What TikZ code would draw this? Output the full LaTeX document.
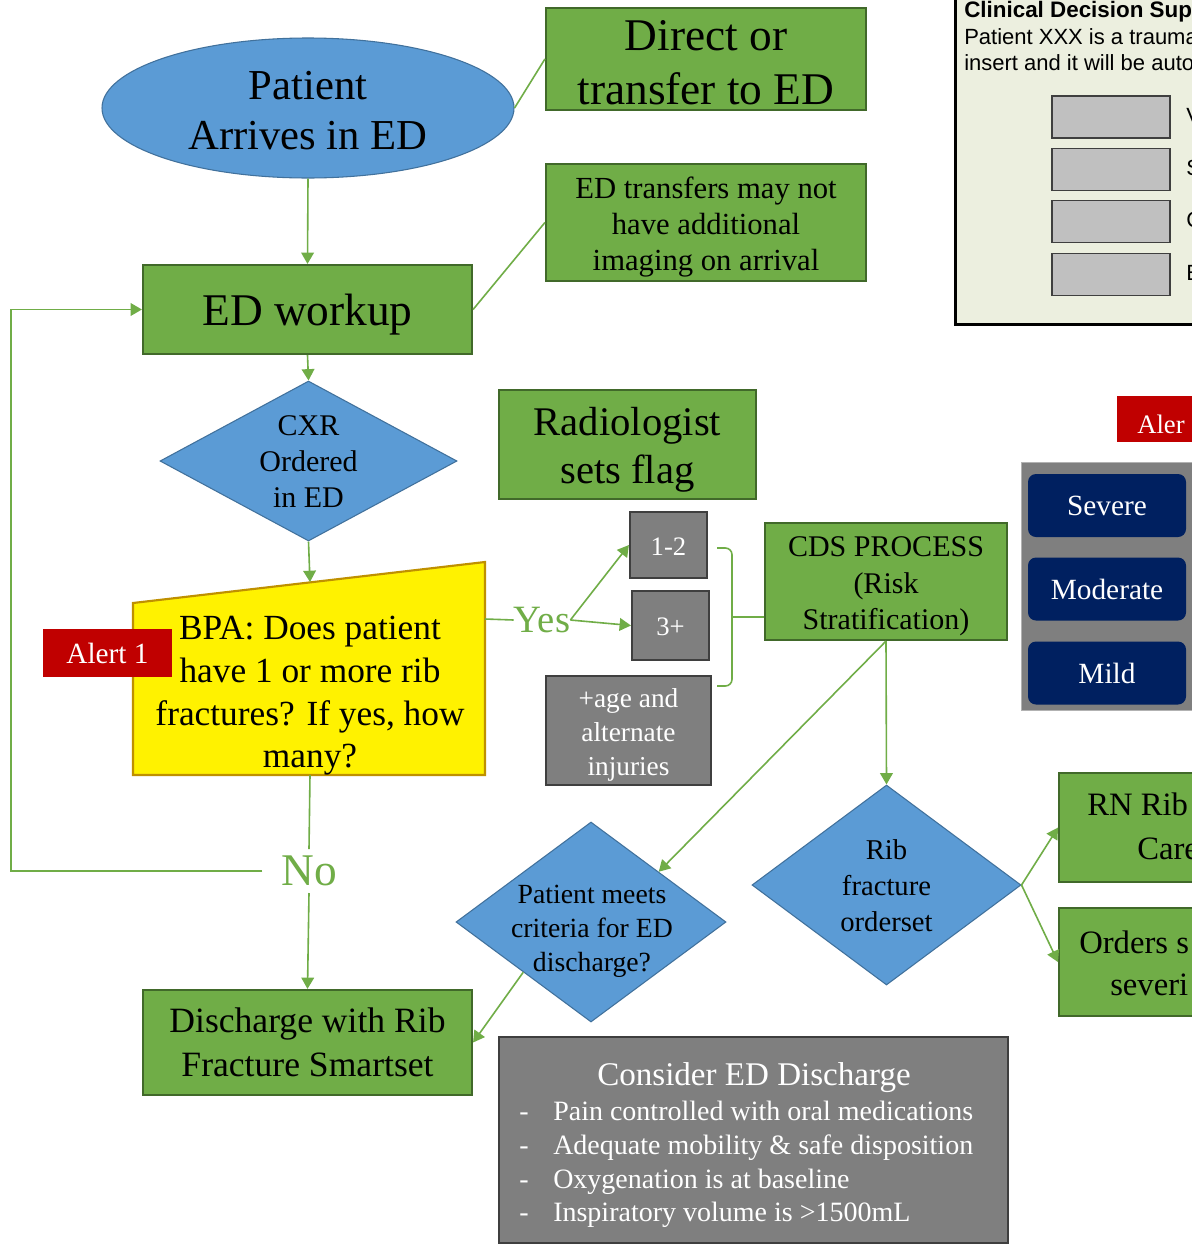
\documentclass[tikz,border=0pt]{standalone}
\usepackage{fontspec}
\setmainfont{Liberation Serif}
\newfontfamily\sansui{Liberation Sans}
\usetikzlibrary{shapes.geometric,arrows.meta}
\definecolor{leaf}{HTML}{70AD47}
\definecolor{leafedge}{HTML}{41692A}
\definecolor{sky}{HTML}{5B9BD5}
\definecolor{skyedge}{HTML}{41719C}
\definecolor{slate}{HTML}{7F7F7F}
\definecolor{slateedge}{HTML}{3F3F3F}
\definecolor{navy}{HTML}{002060}
\definecolor{alarm}{HTML}{C00000}
\definecolor{amber}{HTML}{BF9000}
\definecolor{panelbg}{HTML}{ECEFDF}
\definecolor{keygray}{HTML}{C0C0C0}
\newcommand\pxl[1]{#1*0.75pt}
\newcommand\fsz[2]{\fontsize{#1}{#2}\selectfont}

\begin{document}
\begin{tikzpicture}[x=0.75pt,y=-0.75pt,
  flow/.style={draw=leaf,line width=1.2pt},
  arr/.style={flow,-{Triangle[width=9.5pt,length=8.5pt]}},
  gbox/.style={rectangle,draw=leafedge,fill=leaf,line width=1.6pt,inner sep=0pt,align=center},
  graybox/.style={rectangle,draw=slateedge,fill=slate,line width=1.6pt,inner sep=0pt,align=center,text=white},
  bdiam/.style={diamond,draw=skyedge,fill=sky,line width=0.8pt,inner sep=0pt},
  lbl/.style={inner sep=0pt,align=center},
  redtag/.style={rectangle,fill=alarm,inner sep=0pt,text=white},
  sev/.style={rectangle,rounded corners=6pt,fill=navy,text=white,inner sep=0pt,
    minimum width=\pxl{158},minimum height=\pxl{63},font=\fsz{22}{26}},
  slotkey/.style={rectangle,draw=slateedge,fill=keygray,line width=1pt,
    minimum width=\pxl{118},minimum height=\pxl{42},inner sep=0pt},
  bw/.style={anchor=base west,inner sep=0pt},
]
\useasboundingbox (0,0) rectangle (1192,1246);
\clip (0,0) rectangle (1192,1246);
\fill[white] (0,0) rectangle (1192,1246);

% ---------- decision-support window (top right) ----------
\node[rectangle,draw=black,fill=panelbg,line width=2.4pt,minimum width=\pxl{280},
  minimum height=\pxl{343},inner sep=0pt,anchor=north west] (cdswin) at (954,-20) {};
\node[bw,font=\sansui\bfseries\fsz{16.8}{20}] (cdstitle) at (964,17) {Clinical Decision Supp};
\node[bw,font=\sansui\fsz{16.5}{20}] (cdsline1) at (964,44) {Patient XXX is a trauma};
\node[bw,font=\sansui\fsz{16.5}{20}] (cdsline2) at (964,70) {insert and it will be auto};
\node[slotkey] (slot1) at (1111,117) {};
\node[slotkey] (slot2) at (1111,169.5) {};
\node[slotkey] (slot3) at (1111,221.5) {};
\node[slotkey] (slot4) at (1111,274.5) {};
\node[bw,font=\sansui\fsz{16.5}{20}] (slot1l) at (1186,123) {V};
\node[bw,font=\sansui\fsz{16.5}{20}] (slot2l) at (1186,175.5) {S};
\node[bw,font=\sansui\fsz{16.5}{20}] (slot3l) at (1186,227.5) {C};
\node[bw,font=\sansui\fsz{16.5}{20}] (slot4l) at (1186,280.5) {E};

% ---------- severity panel ----------
\node[redtag,minimum width=\pxl{100},minimum height=\pxl{46},anchor=west] (alert2) at (1117,419) {};
\node[bw,text=white,font=\fsz{20}{24}] (alert2txt) at (1137,433) {Aler};
\node[rectangle,fill=slate,draw=gray!60,line width=0.6pt,minimum width=\pxl{190},
  minimum height=\pxl{248},inner sep=0pt] (sevpanel) at (1116,586) {};
\node[sev] (severe) at (1107,505.5) {Severe};
\node[sev] (moderate) at (1107,589) {Moderate};
\node[sev] (mild) at (1107,673) {Mild};

% ---------- main flow ----------
\node[ellipse,draw=skyedge,fill=sky,line width=0.8pt,minimum width=\pxl{412},
  minimum height=\pxl{140},inner sep=0pt] (arrive) at (308,108) {};
\node[lbl,font=\fsz{32}{37.5}] (arrivetxt) at (308,111) {Patient\\Arrives in ED};

\node[gbox,minimum width=\pxl{320},minimum height=\pxl{102}] (route) at (706,59) {};
\node[lbl,font=\fsz{34}{40.5}] (routetxt) at (706,62.5) {Direct or\\transfer to ED};
\node[gbox,minimum width=\pxl{320},minimum height=\pxl{117}] (xfer) at (706,222.5) {};
\node[lbl,font=\fsz{23}{27}] (xfertxt) at (706,227) {ED transfers may not\\have additional\\imaging on arrival};
\node[gbox,minimum width=\pxl{329},minimum height=\pxl{89}] (workup) at (307.5,309.5) {};
\node[lbl,font=\fsz{34}{40}] (workuptxt) at (307.5,315) {ED workup};

\node[bdiam,minimum width=\pxl{297},minimum height=\pxl{160}] (cxr) at (308.5,461) {};
\node[lbl,font=\fsz{22.5}{27}] (cxrtxt) at (308.5,462) {CXR\\Ordered\\in ED};

\node[gbox,minimum width=\pxl{257},minimum height=\pxl{109}] (radflag) at (627.5,444.5) {};
\node[lbl,font=\fsz{30.5}{36}] (radflagtxt) at (627.5,449.5) {Radiologist\\sets flag};

% manual-input question
\coordinate (bpatl) at (133,603);
\coordinate (bpatr) at (485,562);
\coordinate (bpabr) at (485,775);
\coordinate (bpabl) at (133,775);
\coordinate (bpatop) at (310,582);
\coordinate (bpaout) at (485,619);
\coordinate (bpabot) at (310,775);
\draw[draw=amber,fill=yellow,line width=1.6pt] (bpatl) -- (bpatr) -- (bpabr) -- (bpabl) -- cycle;
\node[lbl,font=\fsz{26.5}{32}] (bpatxt) at (310,696) {BPA: Does patient\\have 1 or more rib\\fractures? If yes, how\\many?};
\node[redtag,minimum width=\pxl{129},minimum height=\pxl{48},font=\fsz{22}{26}] (alert1) at (107.5,653) {Alert 1};

\node[lbl,text=leaf,font=\fsz{29}{34}] (yes) at (542,620) {Yes};

\node[graybox,minimum width=\pxl{77},minimum height=\pxl{66},font=\fsz{20}{24}] (r12) at (668.5,545) {};
\node[lbl,text=white,font=\fsz{20}{24}] (r12txt) at (668.5,547) {1-2};
\node[graybox,minimum width=\pxl{77},minimum height=\pxl{69},font=\fsz{20}{24}] (r3) at (670.5,625.5) {};
\node[lbl,text=white,font=\fsz{20}{24}] (r3txt) at (670.5,627) {3+};
\node[graybox,minimum width=\pxl{165},minimum height=\pxl{109}] (rage) at (628.5,730.5) {};
\node[lbl,text=white,font=\fsz{20.5}{25.5}] (ragetxt) at (628.5,734.5) {+age and\\alternate\\injuries};

\node[gbox,minimum width=\pxl{242},minimum height=\pxl{117}] (cds) at (886,581.5) {};
\node[lbl,font=\fsz{22.5}{27.5}] (cdstxt) at (886,586.5) {CDS PROCESS\\(Risk\\Stratification)};

\node[bdiam,minimum width=\pxl{269},minimum height=\pxl{200}] (ribset) at (886.5,885) {};
\node[lbl,font=\fsz{21.5}{27}] (ribsettxt) at (886.5,886) {Rib\\fracture\\orderset};

\node[bdiam,minimum width=\pxl{270},minimum height=\pxl{200}] (dcrit) at (591,922) {};
\node[lbl,font=\fsz{20.8}{25.5}] (dcrittxt) at (592,931) {Patient meets\\criteria for ED\\discharge?};

\node[gbox,minimum width=\pxl{200},minimum height=\pxl{109},anchor=north west] (rnrib) at (1058,772) {};
\node[bw,font=\fsz{24.5}{30}] (rnribl1) at (1087,815) {RN Rib};
\node[bw,font=\fsz{24.5}{30}] (rnribl2) at (1137,859) {Care};
\node[gbox,minimum width=\pxl{200},minimum height=\pxl{108},anchor=north west] (ordsev) at (1058,907) {};
\node[bw,font=\fsz{24.5}{30}] (ordsevl1) at (1079,953) {Orders s};
\node[bw,font=\fsz{24.5}{30}] (ordsevl2) at (1110,995) {severi};

\node[lbl,text=leaf,font=\fsz{34}{40},inner xsep=14pt,inner ysep=5pt] (nonode) at (309,871) {No};
\coordinate (loopc) at (11,871);

\node[gbox,minimum width=\pxl{329},minimum height=\pxl{105},font=\fsz{26.7}{33}] (dsch) at (307.5,1042.5) {Discharge with Rib\\Fracture Smartset};

% discharge criteria
\node[graybox,minimum width=\pxl{509},minimum height=\pxl{206},line width=2.2pt] (consider) at (753.5,1140) {};
\node[inner sep=0pt,anchor=base,text=white,font=\fsz{24.8}{30}] (ctitle) at (754,1085) {Consider ED Discharge};
\node[bw,text=white,font=\fsz{21}{25}] (citem1) at (519,1120) {\makebox[25.5pt][l]{-}Pain controlled with oral medications};
\node[bw,text=white,font=\fsz{21}{25}] (citem2) at (519,1154) {\makebox[25.5pt][l]{-}Adequate mobility \& safe disposition};
\node[bw,text=white,font=\fsz{21}{25}] (citem3) at (519,1188) {\makebox[25.5pt][l]{-}Oxygenation is at baseline};
\node[bw,text=white,font=\fsz{21}{25}] (citem4) at (519,1221) {\makebox[25.5pt][l]{-}Inspiratory volume is >1500mL};

% ---------- connectors ----------
\draw[flow] (arrive.east) -- (route.west);
\draw[arr] (arrive.south) -- (workup.north);
\draw[flow] (workup.east) -- (xfer.west);
\draw[arr] (workup.south) -- (cxr.north);
\draw[arr] (cxr.south) -- (bpatop);
\draw[flow] (bpaout) -- (yes.west);
\draw[arr] (yes.east) -- (r12.west);
\draw[arr] (yes.east) -- (r3.west);
% bracket gathering the counts into the risk step
\coordinate (brtop) at (717,548);
\coordinate (brbot) at (717,686);
\coordinate (brtip) at (732,617);
\draw[flow,rounded corners=5pt] (brtop) -- (brtop -| brtip) -- (brbot -| brtip) -- (brbot);
\draw[flow] (brtip) -- (brtip -| cds.west);
\draw[arr] (cds.south) -- (ribset.north);
\draw[arr] (cds.south) -- (dcrit.north east);
\draw[arr] (ribset.east) -- (rnrib.west);
\draw[arr] (ribset.east) -- (ordsev.west);
\draw[flow] (bpabot) -- (nonode.north);
\draw[arr] (nonode.south) -- (dsch.north);
\draw[arr] (nonode.west) -- (loopc) |- (workup.west);
\draw[arr] (dcrit.south west) -- (dsch.east);
\end{tikzpicture}
\end{document}
